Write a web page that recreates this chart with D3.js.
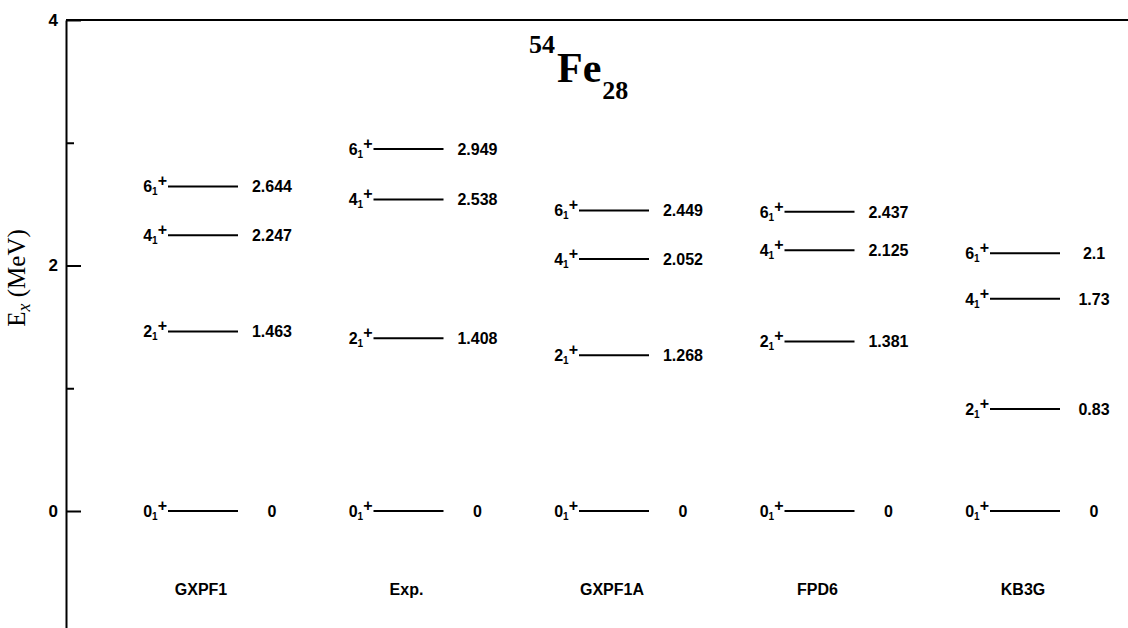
<!DOCTYPE html>
<html>
<head>
<meta charset="utf-8">
<script src="https://cdn.jsdelivr.net/npm/d3@7"></script>
<style>
  html, body { margin: 0; padding: 0; background: #fff; }
  svg { display: block; }
  .lbl { font-family: "Liberation Sans", Arial, sans-serif; font-weight: bold; }
</style>
</head>
<body>
<div id="chart"></div>
<script>
// level scheme data
const models = ['GXPF1', 'Exp.', 'GXPF1A', 'FPD6', 'KB3G'];
const spins = ['0', '2', '4', '6'];
const gxpf1 = [0, 1.463, 2.247, 2.644];
const exp = [0, 1.408, 2.538, 2.949];
const gxpf1a = [0, 1.268, 2.052, 2.449];
const fpd6 = [0, 1.381, 2.125, 2.437];
const kb3g = [0, 0.83, 1.73, 2.1];
const majorTicks = [0, 2, 4];
const minorTicks = [1, 3];

const energies = [gxpf1, exp, gxpf1a, fpd6, kb3g];

const width = 1128, height = 628;
const axisX = 66;

const svg = d3.select('#chart')
  .append('svg')
  .attr('width', width)
  .attr('height', height);

const y = d3.scaleLinear()
  .domain([-1, 4])
  .range([633.75, 20]);

const x = d3.scalePoint()
  .domain(models)
  .range([203, 1025]);

// axes
const yAxis = d3.axisLeft(y)
  .tickValues(majorTicks)
  .tickFormat(d3.format('d'))
  .tickSizeInner(-15)
  .tickSizeOuter(0)
  .tickPadding(8);

const axisG = svg.append('g')
  .attr('transform', `translate(${axisX},0)`)
  .call(yAxis);
axisG.select('.domain').attr('stroke-width', 2);
axisG.selectAll('.tick line').attr('stroke-width', 2);
axisG.selectAll('.tick text')
  .attr('class', 'lbl')
  .attr('font-size', 17)
  .attr('fill', '#000');

const minorG = svg.append('g')
  .attr('transform', `translate(${axisX},0)`)
  .call(d3.axisLeft(y).tickValues(minorTicks).tickSize(-8).tickFormat(''));
minorG.select('.domain').remove();
minorG.selectAll('.tick line').attr('stroke-width', 2);

// top frame line
svg.append('line')
  .attr('x1', axisX).attr('x2', width)
  .attr('y1', y(4)).attr('y2', y(4))
  .attr('stroke', '#000')
  .attr('stroke-width', 2);

// y label
const yl = svg.append('text')
  .attr('transform', `translate(25,278) rotate(-90)`)
  .attr('text-anchor', 'middle')
  .attr('font-family', '"Liberation Serif", "Times New Roman", serif')
  .attr('font-size', 25);
yl.append('tspan').text('E');
yl.append('tspan').attr('font-style', 'italic').attr('font-size', 18).attr('dy', 5).text('x');
yl.append('tspan').attr('dy', -5).text(' (MeV)');

// title
const title = svg.append('text')
  .attr('x', 529).attr('y', 53)
  .attr('font-family', '"Liberation Serif", "Times New Roman", serif')
  .attr('font-weight', 'bold');
title.append('tspan').attr('font-size', 26).text('54');
title.append('tspan').attr('font-size', 42).attr('dx', 2).attr('dy', 29).text('Fe');
title.append('tspan').attr('font-size', 26).attr('dx', 1).attr('dy', 17).text('28');

// levels
const halfLen = 35;
const levels = [];
models.forEach((m, i) => {
  energies[i].forEach((e, j) => levels.push({ model: m, spin: spins[j], e: e }));
});

const lv = svg.append('g').selectAll('g.level')
  .data(levels)
  .enter()
  .append('g')
  .attr('class', 'level');

lv.append('line')
  .attr('x1', d => x(d.model) - halfLen)
  .attr('x2', d => x(d.model) + halfLen)
  .attr('y1', d => y(d.e))
  .attr('y2', d => y(d.e))
  .attr('stroke', '#000')
  .attr('stroke-width', 2);

const st = lv.append('text')
  .attr('class', 'lbl')
  .attr('x', d => x(d.model) - halfLen - 1)
  .attr('y', d => y(d.e) + 6)
  .attr('text-anchor', 'end')
  .attr('font-size', 16);
st.append('tspan').text(d => d.spin);
st.append('tspan').attr('font-size', 10).attr('dy', 3).text('1');
st.append('tspan').attr('font-size', 16).attr('dy', -9).text('+');

lv.append('text')
  .attr('class', 'lbl')
  .attr('x', d => x(d.model) + halfLen + 34)
  .attr('y', d => y(d.e) + 6)
  .attr('text-anchor', 'middle')
  .attr('font-size', 16)
  .text(d => String(d.e));

// model names
svg.append('g').selectAll('text')
  .data(models)
  .enter()
  .append('text')
  .attr('class', 'lbl')
  .attr('x', d => x(d) - 2)
  .attr('y', 595)
  .attr('text-anchor', 'middle')
  .attr('font-size', 16)
  .text(d => d);
</script>
</body>
</html>
